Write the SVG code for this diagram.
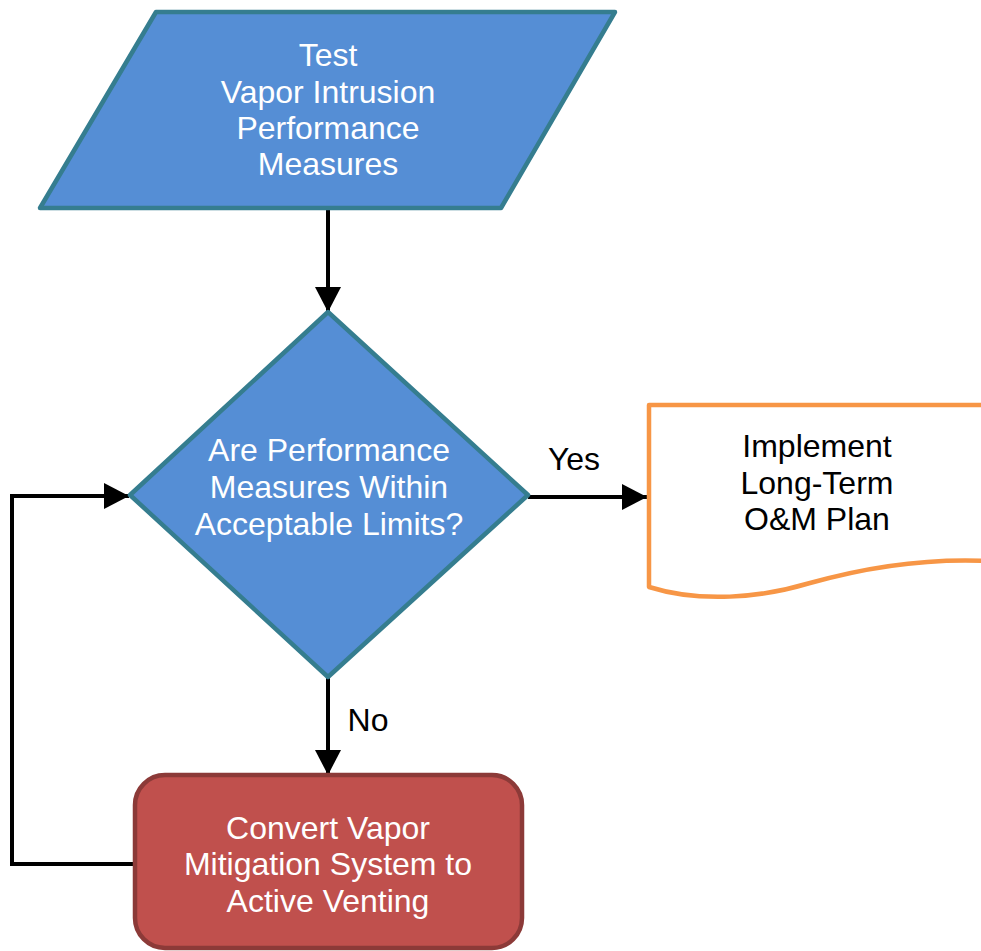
<svg xmlns="http://www.w3.org/2000/svg" width="981" height="951" viewBox="0 0 981 951">
<defs>
<marker id="arr" markerUnits="userSpaceOnUse" markerWidth="26" markerHeight="26" refX="25" refY="13" orient="auto">
<path d="M0,0 L25,13 L0,26 Z" fill="#000"/>
</marker>
<style>
.blue{fill:#558ed5;stroke:#357d8f;stroke-width:4.5;stroke-linejoin:round}
.red{fill:#c0504d;stroke:#8c3a38;stroke-width:4.5}
.doc{fill:#fff;stroke:#f79646;stroke-width:4.5;stroke-linejoin:round}
.conn{fill:none;stroke:#000;stroke-width:4}
text{font-family:"Liberation Sans",Arial,sans-serif;font-size:32px;text-anchor:middle}
.w{fill:#fff}
.k{fill:#000}
</style>
</defs>
<rect width="981" height="951" fill="#fff"/>
<g id="connectors">
<line class="conn" x1="328" y1="210" x2="328" y2="312" marker-end="url(#arr)"/>
<line class="conn" x1="528" y1="497" x2="647" y2="497" marker-end="url(#arr)"/>
<line class="conn" x1="328" y1="677" x2="328" y2="775" marker-end="url(#arr)"/>
<polyline class="conn" points="135,864 12,864 12,496 129,496" marker-end="url(#arr)"/>
<text class="k" x="574" y="470">Yes</text>
<text class="k" x="368" y="731">No</text>
</g>
<g id="test">
<polygon class="blue" points="156,12 615,12 501,208 40,208"/>
<text class="w" x="328" y="66">Test</text>
<text class="w" x="328" y="103">Vapor Intrusion</text>
<text class="w" x="328" y="139">Performance</text>
<text class="w" x="328" y="175">Measures</text>
</g>
<g id="decision">
<polygon class="blue" points="328,312 528,495 328,677 130,495"/>
<text class="w" x="329" y="461">Are Performance</text>
<text class="w" x="329" y="498">Measures Within</text>
<text class="w" x="329" y="535">Acceptable Limits?</text>
</g>
<g id="implement">
<path class="doc" d="M649,405 H990 V561 C930,558 870,566 810,583 C760,598 700,603 649,587 Z"/>
<text class="k" x="817" y="457">Implement</text>
<text class="k" x="817" y="494">Long-Term</text>
<text class="k" x="817" y="530">O&amp;M Plan</text>
</g>
<g id="convert">
<rect class="red" x="135" y="775" width="387" height="173" rx="30" ry="30"/>
<text class="w" x="328" y="839">Convert Vapor</text>
<text class="w" x="328" y="875">Mitigation System to</text>
<text class="w" x="328" y="912">Active Venting</text>
</g>
</svg>
